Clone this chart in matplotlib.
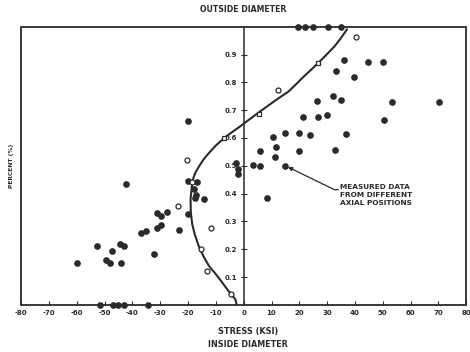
import numpy as np
import matplotlib
matplotlib.use('Agg')
import matplotlib.pyplot as plt
from matplotlib.patches import Rectangle

# measured data (filled dots): stress (ksi), percent
meas_x = [19.6, 22, 25, 30.4, 35.1,
          36.1, 33.1, 39.6, 44.6, 50,
          26.2, 32.1, 35.1, 53.2, 70.2,
          21.4, 26.8, 30, 50.6,
          10.7, 14.9, 20, 23.8, 36.9,
          6.0, 11.5, 11.3, 19.9, 32.7,
          3.2, 6.0, 14.9, 8.3,
          -2.6, -2.2, -2.2,
          -19.9, -20.2, -16.7, -17.9, -17.3, -17.5, -14.3, -20.2,
          -42.3, -31.3, -29.8, -27.4, -31, -29.6, -36.9, -35.1, -23.2,
          -52.6, -47.3, -44.3, -42.9, -49.6, -48.2, -44, -59.9, -32.4,
          -51.5, -47, -45.2, -43.2, -34.5]
meas_y = [1.0, 1.0, 1.0, 1.0, 1.0,
          0.879, 0.842, 0.819, 0.873, 0.875,
          0.734, 0.752, 0.737, 0.729, 0.731,
          0.675, 0.675, 0.683, 0.663,
          0.605, 0.618, 0.618, 0.609, 0.614,
          0.552, 0.566, 0.531, 0.554, 0.555,
          0.504, 0.498, 0.501, 0.384,
          0.51, 0.49, 0.47,
          0.66, 0.444, 0.441, 0.416, 0.396, 0.384, 0.38, 0.327,
          0.434, 0.332, 0.32, 0.335, 0.278, 0.288, 0.258, 0.264, 0.27,
          0.212, 0.194, 0.218, 0.213, 0.162, 0.152, 0.15, 0.152, 0.183,
          0.0, 0.0, 0.0, 0.0, 0.0]

# open circles
circ_x = [-20.5, -18.5, -23.5, -11.9, -15.2, -13.1, -4.5, 12.5, 40.5]
circ_y = [0.52, 0.441, 0.356, 0.278, 0.20, 0.12, 0.04, 0.773, 0.963]

# open squares
sq_x = [-7.0, 5.4, 26.8]
sq_y = [0.60, 0.686, 0.87]

# fitted curve
curve_x = [-2.5, -3.0, -4.2, -5.5, -7.7, -10.0, -12.5, -14.5, -16.1, -17.5,
           -18.5, -19.0, -19.1, -18.7, -18.1, -17.3, -16.1, -14.5, -12.5,
           -10.0, -7.0, -4.2, -1.5, 1.4, 4.2, 7.1, 10.0, 13.0, 16.1, 18.8,
           21.5, 24.2, 26.8, 29.8, 32.7, 35.0, 37.1]
curve_y = [0.0, 0.02, 0.035, 0.05, 0.08, 0.11, 0.14, 0.175, 0.21, 0.25,
           0.29, 0.33, 0.38, 0.42, 0.456, 0.477, 0.497, 0.522, 0.546,
           0.573, 0.60, 0.621, 0.64, 0.662, 0.683, 0.704, 0.725, 0.746,
           0.767, 0.793, 0.82, 0.845, 0.87, 0.90, 0.93, 0.96, 0.99]

xticks = np.arange(-80, 81, 10)
yticks = np.arange(1, 10) / 10

ink = '#2a2a2a'
fnt = dict(family='DejaVu Sans', fontweight='bold', color=ink)

fig = plt.figure(figsize=(4.7, 3.52), dpi=100)
ax = fig.add_axes([0.045, 0.134, 0.947, 0.79])
ax.set_xlim(-80, 80)
ax.set_ylim(0, 1.0)

# y axis through zero, plus a box frame
for s in ['right', 'top', 'bottom']:
    ax.spines[s].set_visible(False)
ax.spines['left'].set_position(('data', 0))
ax.spines['left'].set_color(ink)
ax.spines['left'].set_linewidth(1.1)
ax.add_patch(Rectangle((0, 0), 1, 1, transform=ax.transAxes, fill=False,
                       ec=ink, lw=1.3, clip_on=False))

ax.set_xticks(xticks)
ax.set_xticklabels([str(v) for v in xticks])
ax.set_yticks(yticks)
ax.set_yticklabels(['%.1f' % v for v in yticks])
ax.tick_params(axis='x', direction='in', length=3, width=0.8, colors=ink,
               labelsize=5, pad=4)
ax.tick_params(axis='y', direction='inout', length=5, width=0.8, colors=ink,
               labelsize=5, pad=2)
for lab in ax.get_xticklabels() + ax.get_yticklabels():
    lab.set_fontweight('bold')

ax.plot(curve_x, curve_y, color=ink, lw=1.5, zorder=2)
ax.plot(meas_x, meas_y, 'o', ms=3.8, color=ink, mec=ink, clip_on=False, zorder=3)
ax.plot(circ_x, circ_y, 'o', ms=3.6, mfc='white', mec=ink, mew=0.9, zorder=4)
ax.plot(sq_x, sq_y, 's', ms=3.3, mfc='white', mec=ink, mew=0.9, zorder=4)

ax.annotate('', xy=(15, 0.5), xytext=(34.0, 0.414),
            arrowprops=dict(arrowstyle='-|>', color=ink, lw=0.9,
                            mutation_scale=6, shrinkA=0, shrinkB=2,
                            connectionstyle='angle,angleA=0,angleB=-26,rad=0'))
ax.text(34.5, 0.435, 'MEASURED DATA\nFROM DIFFERENT\nAXIAL POSITIONS',
        ha='left', va='top', fontsize=5.3, linespacing=1.45, **fnt)

fig.text(0.517, 0.972, 'OUTSIDE DIAMETER', ha='center', va='center', fontsize=5.6, **fnt)
fig.text(0.528, 0.057, 'STRESS (KSI)', ha='center', va='center', fontsize=5.9, **fnt)
fig.text(0.528, 0.022, 'INSIDE DIAMETER', ha='center', va='center', fontsize=5.8, **fnt)
fig.text(0.024, 0.53, 'PERCENT (%)', ha='center', va='center', rotation=90,
         fontsize=4.3, **fnt)

fig.savefig('out.png', dpi=100)
